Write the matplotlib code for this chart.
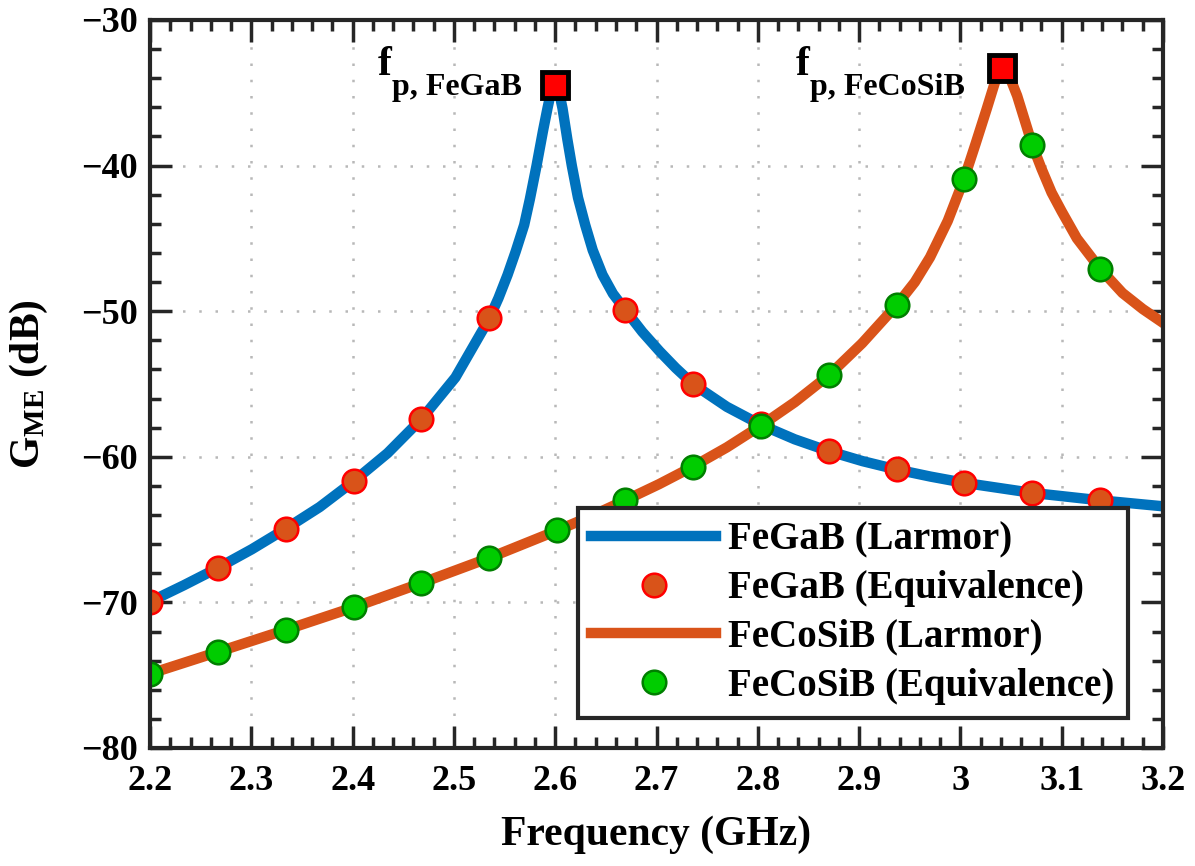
import matplotlib
matplotlib.use('Agg')
import matplotlib.pyplot as plt
from matplotlib.ticker import MultipleLocator, FuncFormatter

plt.rcParams['font.family'] = 'Liberation Serif'
plt.rcParams['font.weight'] = 'bold'
plt.rcParams['axes.labelweight'] = 'bold'
plt.rcParams['mathtext.fontset'] = 'custom'
plt.rcParams['mathtext.rm'] = 'Liberation Serif:bold'
plt.rcParams['mathtext.bf'] = 'Liberation Serif:bold'
plt.rcParams['mathtext.it'] = 'Liberation Serif:bold'

# FeGaB - model Larmora (krzywa ciagla)
fegab_f = [2.200, 2.2335, 2.267, 2.3005, 2.334, 2.3675, 2.401, 2.4345, 2.468, 2.5015,
           2.535, 2.544, 2.553, 2.561, 2.5694, 2.575, 2.5816, 2.588, 2.5924, 2.596,
           2.600, 2.604, 2.6072, 2.612, 2.6164, 2.6225, 2.6296, 2.637, 2.6467, 2.657,
           2.669, 2.686, 2.703, 2.719, 2.736, 2.7695, 2.803, 2.8365, 2.870, 2.9035,
           2.937, 2.9705, 3.004, 3.071, 3.138, 3.200]
fegab_g = [-69.95, -68.82, -67.63, -66.35, -64.94, -63.45, -61.68, -59.75, -57.40, -54.55,
           -50.50, -49.10, -47.50, -45.90, -44.07, -42.30, -40.00, -37.60, -36.06, -34.90,
           -34.40, -35.00, -36.06, -38.20, -40.00, -42.20, -44.07, -45.80, -47.50, -48.80,
           -49.90, -51.42, -52.75, -53.90, -55.00, -56.57, -57.80, -58.80, -59.61, -60.30,
           -60.87, -61.36, -61.79, -62.48, -62.99, -63.40]

# FeCoSiB - model Larmora
fecosib_f = [2.200, 2.267, 2.334, 2.401, 2.468, 2.535, 2.602, 2.6355, 2.669, 2.7025,
             2.736, 2.7695, 2.803, 2.8365, 2.870, 2.903, 2.937, 2.955, 2.970, 2.9875,
             3.0036, 3.015, 3.026, 3.034, 3.041, 3.048, 3.056, 3.064, 3.071, 3.080,
             3.090, 3.100, 3.115, 3.138, 3.160, 3.180, 3.200]
fecosib_g = [-74.90, -73.40, -71.89, -70.34, -68.67, -66.94, -65.06, -64.07, -62.99, -61.88,
             -60.67, -59.35, -57.86, -56.25, -54.41, -52.20, -49.59, -48.00, -46.30, -43.80,
             -40.92, -38.50, -36.10, -34.30, -33.30, -33.80, -35.20, -37.00, -38.58, -40.20,
             -41.85, -43.15, -45.00, -47.09, -48.75, -49.85, -50.80]

# punkty z modelu rownowaznosci
eq_f = [2.200, 2.267, 2.334, 2.401, 2.468, 2.535, 2.602, 2.669, 2.736, 2.803,
        2.870, 2.937, 3.004, 3.071, 3.138]
fegab_eq = [-69.95, -67.63, -64.94, -61.68, -57.40, -50.50, -34.50, -49.90, -55.00, -57.75,
            -59.61, -60.87, -61.79, -62.48, -62.99]
fecosib_eq = [-74.90, -73.40, -71.89, -70.34, -68.67, -66.94, -65.06, -62.99, -60.67, -57.90,
              -54.41, -49.59, -40.92, -38.58, -47.09]

# czestotliwosci rezonansowe
peak_f = [2.600, 3.041]
peak_g = [-34.46, -33.30]
peak_names = ['p, FeGaB', 'p, FeCoSiB']
label_f = [2.425, 2.8374]       # polozenie litery f
label_sub = [2.4388, 2.8512]    # polozenie indeksu

fig = plt.figure(figsize=(11.95, 8.66), dpi=100)
ax = fig.add_axes([150 / 1195, 118 / 866, 1013 / 1195, 728 / 866])

ax.plot(fegab_f, fegab_g, color='#0072BD', linewidth=7.5, label='FeGaB (Larmor)')
ax.plot(eq_f, fegab_eq, linestyle='none', marker='o', markersize=17,
        markerfacecolor='#D95319', markeredgecolor='#FF0000', markeredgewidth=1.8,
        label='FeGaB (Equivalence)')
ax.plot(fecosib_f, fecosib_g, color='#D95319', linewidth=7.5, label='FeCoSiB (Larmor)')
ax.plot(eq_f, fecosib_eq, linestyle='none', marker='o', markersize=17,
        markerfacecolor='#00CC00', markeredgecolor='#007F00', markeredgewidth=1.8,
        label='FeCoSiB (Equivalence)')
ax.plot(peak_f, peak_g, linestyle='none', marker='s', markersize=19,
        markerfacecolor='#FF0000', markeredgecolor='black', markeredgewidth=3.5, zorder=5)

for xf, xs, name in zip(label_f, label_sub, peak_names):
    ax.text(xf, -33.78, 'f', ha='left', va='baseline', fontsize=30)
    ax.text(xs, -35.15, name, ha='left', va='baseline', fontsize=23)

ax.set_xlim(2.2, 3.2)
ax.set_ylim(-80, -30)
ax.xaxis.set_major_locator(MultipleLocator(0.1))
ax.xaxis.set_minor_locator(MultipleLocator(0.02))
ax.yaxis.set_major_locator(MultipleLocator(10))
ax.yaxis.set_minor_locator(MultipleLocator(2))
ax.xaxis.set_major_formatter(FuncFormatter(lambda v, p: '%g' % round(v, 2)))
ax.yaxis.set_major_formatter(FuncFormatter(lambda v, p: ('%g' % v).replace('-', '\u2212')))

ax.tick_params(which='both', direction='in', top=True, right=True, color='#262626')
ax.tick_params(which='major', length=16, width=2.5, labelsize=26, pad=9)
ax.tick_params(axis='x', which='major', pad=12)
ax.tick_params(which='minor', length=8, width=2.5)
for s in ax.spines.values():
    s.set_linewidth(3)
    s.set_color('#262626')

ax.grid(True, which='major', linestyle=(0, (1, 5.5)), color='#b8b8b8', linewidth=1.8)
ax.set_axisbelow(True)

ax.set_xlabel('Frequency (GHz)', fontsize=30)
ax.set_ylabel(r'$\mathbf{G_{ME}}$ (dB)', fontsize=30)
ax.xaxis.set_label_coords(0.5, -0.093)
ax.yaxis.set_label_coords(-0.099, 0.5)

leg = ax.legend(loc='lower right', bbox_to_anchor=(0.965, 0.041), fontsize=28,
                handlelength=3.2, handletextpad=0.3, labelspacing=0.3,
                borderaxespad=0, borderpad=0.35, fancybox=False, framealpha=1)
leg.get_frame().set_edgecolor('#262626')
leg.get_frame().set_linewidth(3)

plt.savefig('out.png', dpi=100)
